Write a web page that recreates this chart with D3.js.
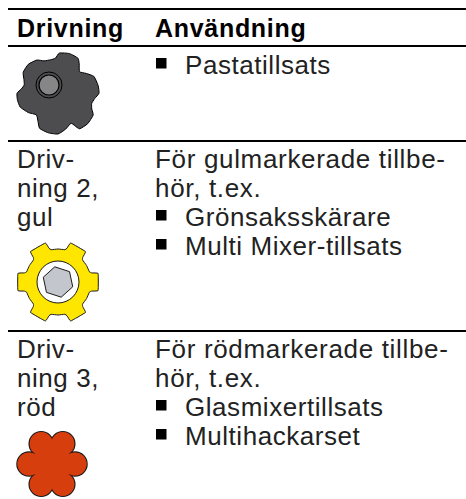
<!DOCTYPE html>
<html lang="sv">
<head>
    <meta charset="UTF-8">
    <title>Drivning</title>
    <style>
        body { margin: 0; background: #fff; }
        svg { display: block; }
        text { font-family: "Liberation Sans", sans-serif; font-size: 26px; fill: #222; letter-spacing: 0.55px; }
        .head { font-weight: bold; fill: #000; font-size: 25px; letter-spacing: 0.7px; }
    </style>
    <script src="https://cdn.jsdelivr.net/npm/d3@7"></script>
</head>
<body>
    <script>
        const width = 466, height = 499;

        // Table content
        const headers = ["Drivning", "Användning"];
        const driveLabels = [[], ["Driv-", "ning 2,", "gul"], ["Driv-", "ning 3,", "röd"]];
        const usageLines = [
            [],
            ["För gulmarkerade tillbe-", "hör, t.ex."],
            ["För rödmarkerade tillbe-", "hör, t.ex."]
        ];
        const usageBullets = [
            ["Pastatillsats"],
            ["Grönsaksskärare", "Multi Mixer-tillsats"],
            ["Glasmixertillsats", "Multihackarset"]
        ];

        // Icon outlines, [angle in degrees, radius]
        const darkGear = [[-12,35],[-4,36],[2,41],[16,42],[29,41],[35,37],[44,31],[54,35],[64,40],[78,41],[89,41],[97,37],[106,35],[114,37],[121,41],[135,42],[148,41],[152,36],[156,32],[168,36],[180,40],[194,40],[208,39],[216,34],[226,30],[238,35],[251,40],[262,41],[271,41],[278,37],[285,35],[293,37],[302,41],[315,42],[328,40],[337,36]];
        const yellowTeeth = [30, 90, 150, 210, 270, 330];
        const toothProfile = [[-30,33],[-18,33],[-15,35],[-12,41],[12,41],[15,35],[18,33]];
        const hexAngles = [-12, 48, 108, 168, 228, 288];
        const redLobes = [28, 90, 152, 208, 270, 332];

        const svg = d3.select("body").append("svg").attr("width", width).attr("height", height);

        const x = d3.scaleOrdinal().domain(["rule", "col1", "col2", "bullet", "end"]).range([8, 17, 155, 185, 466]);
        const lineY = d3.scaleLinear().domain([0, 1]).range([0, 29]);
        const ruleYs = [9, 46, 141, 331];
        const rowBase = [74, 168, 358];

        // Rules
        svg.selectAll("line.rule")
            .data(ruleYs)
            .join("line")
            .attr("class", "rule")
            .attr("x1", x("rule"))
            .attr("x2", x("end"))
            .attr("y1", d => d)
            .attr("y2", d => d)
            .attr("stroke", "#000")
            .attr("stroke-width", 2);

        // Header
        svg.selectAll("text.head")
            .data(headers)
            .join("text")
            .attr("class", "head")
            .attr("x", (d, i) => x(i ? "col2" : "col1"))
            .attr("y", 37)
            .text(d => d);

        // Rows
        usageBullets.forEach((bullets, r) => {
            const g = svg.append("g").attr("transform", `translate(0,${rowBase[r]})`);

            g.selectAll("text.drive")
                .data(driveLabels[r])
                .join("text")
                .attr("class", "drive")
                .attr("x", x("col1"))
                .attr("y", (d, i) => lineY(i))
                .text(d => d);

            g.selectAll("text.usage")
                .data(usageLines[r])
                .join("text")
                .attr("class", "usage")
                .attr("x", x("col2"))
                .attr("y", (d, i) => lineY(i))
                .attr("style", "letter-spacing:0.67px")
                .text(d => d);

            const offset = usageLines[r].length;
            const item = g.selectAll("g.item")
                .data(bullets)
                .join("g")
                .attr("class", "item")
                .attr("transform", (d, i) => `translate(0,${lineY(i + offset)})`);

            item.append("rect")
                .attr("x", x("col2") + 1)
                .attr("y", -16)
                .attr("width", 10.5)
                .attr("height", 10.5)
                .attr("fill", "#000");

            item.append("text")
                .attr("x", x("bullet"))
                .text(d => d);
        });

        // Icons
        const rad = d => d * Math.PI / 180;
        const radial = d3.lineRadial().angle(d => rad(d[0])).radius(d => d[1]);

        // Dark gear
        const dark = svg.append("g").attr("transform", "translate(58,94)");
        dark.append("path")
            .attr("d", radial.curve(d3.curveCardinalClosed.tension(0.5))(darkGear))
            .attr("fill", "#4d4d4f")
            .attr("stroke", "#000")
            .attr("stroke-width", 1);
        const hub = dark.append("g").attr("transform", "translate(-9,-9)");
        hub.append("circle").attr("r", 13).attr("fill", "#4d4d4f").attr("stroke", "#000").attr("stroke-width", 1);
        hub.append("circle").attr("r", 10).attr("fill", "#868686").attr("stroke", "#000").attr("stroke-width", 1.2);

        // Yellow gear
        const yellow = svg.append("g").attr("transform", "translate(58,282)");
        const yellowOutline = yellowTeeth.flatMap(t => toothProfile.map(p => [t + p[0], p[1]]));
        yellow.append("path")
            .attr("d", radial.curve(d3.curveCardinalClosed.tension(0.75))(yellowOutline))
            .attr("fill", "#ffe600")
            .attr("stroke", "#1a1a1a")
            .attr("stroke-width", 1);
        yellow.append("circle").attr("r", 21).attr("fill", "#fff").attr("stroke", "#1a1a1a").attr("stroke-width", 1);
        yellow.append("path")
            .attr("d", radial.curve(d3.curveLinearClosed)(hexAngles.map(a => [a, 15.5])))
            .attr("fill", "#c3c6cc")
            .attr("stroke", "#1a1a1a")
            .attr("stroke-width", 1);

        // Red flower: stroked lobes first, then the same lobes filled over them
        const red = svg.append("g").attr("transform", "translate(52,464)");
        const lobeX = a => 23 * Math.sin(rad(a));
        const lobeY = a => -23 * Math.cos(rad(a));
        red.selectAll("circle.edge")
            .data(redLobes)
            .join("circle")
            .attr("class", "edge")
            .attr("cx", lobeX)
            .attr("cy", lobeY)
            .attr("r", 12)
            .attr("fill", "#d63e0e")
            .attr("stroke", "#1a1a1a")
            .attr("stroke-width", 1.5);
        red.selectAll("circle.lobe")
            .data(redLobes)
            .join("circle")
            .attr("class", "lobe")
            .attr("cx", lobeX)
            .attr("cy", lobeY)
            .attr("r", 11.6)
            .attr("fill", "#d63e0e");
        red.append("circle").attr("r", 20).attr("fill", "#d63e0e");
    </script>
</body>
</html>
